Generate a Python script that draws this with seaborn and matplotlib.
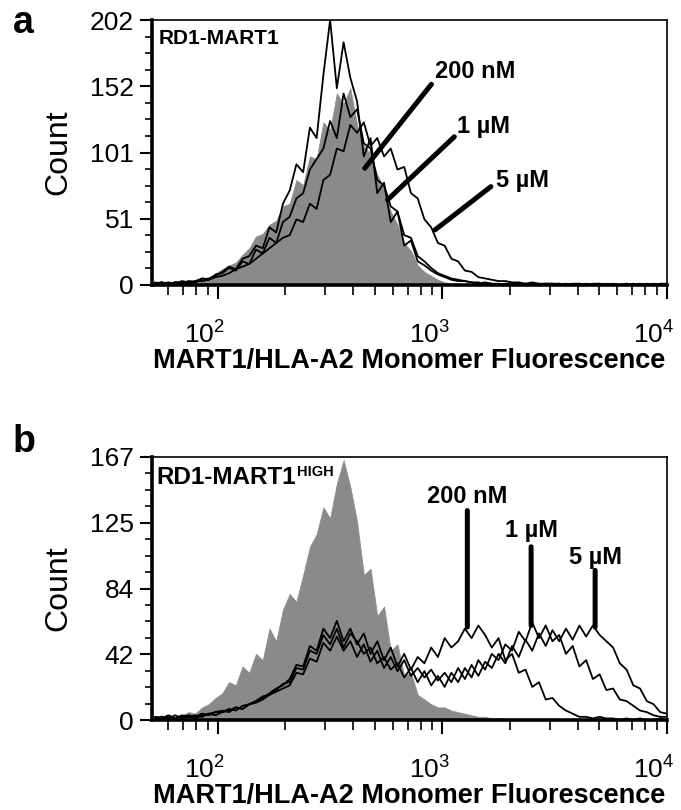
import numpy as np
import pandas as pd
import matplotlib
matplotlib.use("Agg")
import matplotlib.pyplot as plt
import matplotlib.transforms as mtransforms
import seaborn as sns
from matplotlib.ticker import FixedLocator, NullFormatter, LogLocator

# ---------------- data (log10 of fluorescence channel centres) ----------------
log_bins = [1.72, 1.75, 1.78, 1.81, 1.84, 1.87, 1.90, 1.93, 1.96, 1.99,
            2.02, 2.05, 2.08, 2.11, 2.14, 2.17, 2.20, 2.23, 2.26, 2.29,
            2.32, 2.35, 2.38, 2.41, 2.44, 2.47, 2.50, 2.53, 2.56, 2.59,
            2.62, 2.65, 2.68, 2.71, 2.74, 2.77, 2.80, 2.83, 2.86, 2.89,
            2.92, 2.95, 2.98, 3.01, 3.04, 3.07, 3.10, 3.13, 3.16, 3.19,
            3.22, 3.25, 3.28, 3.31, 3.34, 3.37, 3.40, 3.43, 3.46, 3.49,
            3.52, 3.55, 3.58, 3.61, 3.64, 3.67, 3.70, 3.73, 3.76, 3.79,
            3.82, 3.85, 3.88, 3.91, 3.94, 3.97, 4.00]

concentrations = ["200 nM", "1 µM", "5 µM"]

# panel a : RD1-MART1
a_control = [2, 3, 1, 3, 2, 4, 3, 6, 5, 9,
             12, 15, 17, 23, 28, 37, 39, 46, 49, 60,
             62, 80, 76, 98, 96, 124, 118, 146, 138, 150,
             122, 106, 100, 84, 74, 56, 46, 32, 26, 15,
             10, 7, 4, 2, 1, 1, 0, 0, 0, 0,
             0, 0, 0, 0, 0, 0, 0, 0, 0, 0,
             0, 0, 0, 0, 0, 0, 0, 0, 0, 0,
             0, 0, 0, 0, 0, 0, 0]
a_200nM = [1, 2, 0, 2, 1, 3, 2, 4, 5, 7,
           10, 14, 12, 20, 22, 30, 28, 44, 40, 62,
           72, 92, 86, 120, 112, 160, 202, 150, 185, 158,
           140, 98, 112, 70, 78, 48, 56, 30, 34, 18,
           15, 11, 8, 6, 4, 3, 3, 2, 1, 2,
           1, 1, 0, 1, 1, 0, 1, 0, 1, 1,
           0, 1, 0, 0, 1, 0, 0, 1, 0, 0,
           1, 0, 0, 1, 0, 0, 0]
a_1uM = [2, 1, 2, 1, 3, 2, 3, 5, 4, 8,
         9, 13, 11, 18, 16, 27, 24, 36, 32, 48,
         52, 66, 70, 88, 96, 104, 125, 112, 146, 128,
         134, 108, 104, 80, 76, 60, 56, 38, 36, 22,
         18, 13, 9, 7, 5, 4, 3, 2, 2, 1,
         1, 0, 1, 1, 0, 1, 0, 1, 0, 0,
         1, 0, 0, 1, 0, 0, 1, 0, 0, 0,
         0, 1, 0, 0, 1, 0, 0]
a_5uM = [1, 2, 1, 2, 2, 1, 3, 3, 4, 6,
         7, 9, 12, 14, 16, 20, 24, 28, 32, 36,
         38, 50, 48, 62, 58, 80, 84, 104, 102, 122,
         116, 124, 106, 112, 98, 104, 88, 90, 70, 66,
         50, 44, 32, 30, 20, 18, 11, 10, 6, 5,
         4, 3, 3, 2, 2, 1, 2, 1, 1, 1,
         1, 0, 1, 1, 0, 1, 1, 0, 1, 0,
         1, 0, 1, 0, 0, 1, 1]

# panel b : RD1-MART1 HIGH
b_control = [2, 3, 1, 2, 3, 5, 4, 8, 10, 14,
             17, 24, 22, 34, 30, 42, 38, 58, 50, 70,
             80, 75, 92, 110, 118, 135, 128, 150, 165, 148,
             126, 92, 96, 66, 72, 44, 48, 28, 30, 16,
             13, 10, 8, 8, 6, 5, 4, 3, 2, 2,
             1, 1, 1, 0, 1, 0, 0, 1, 0, 0,
             0, 0, 0, 0, 0, 0, 0, 0, 0, 0,
             0, 0, 0, 0, 0, 0, 0]
b_200nM = [2, 1, 3, 1, 2, 3, 2, 4, 3, 5,
           6, 5, 8, 7, 10, 12, 14, 17, 20, 22,
           26, 35, 34, 47, 44, 58, 52, 63, 50, 58,
           48, 55, 42, 50, 38, 46, 34, 42, 32, 40,
           36, 46, 40, 52, 46, 50, 58, 52, 60, 54,
           46, 52, 38, 42, 30, 32, 21, 24, 13, 14,
           9, 6, 4, 2, 2, 1, 2, 1, 1, 0,
           1, 0, 1, 0, 0, 1, 0]
b_1uM = [1, 2, 1, 3, 1, 2, 3, 2, 4, 5,
         5, 7, 6, 9, 10, 12, 15, 16, 19, 23,
         24, 33, 32, 44, 42, 54, 48, 58, 46, 55,
         50, 42, 46, 36, 40, 32, 36, 27, 33, 24,
         31, 22, 28, 21, 30, 24, 33, 27, 38, 32,
         42, 38, 48, 44, 56, 50, 62, 52, 60, 50,
         54, 42, 47, 34, 38, 26, 29, 19, 20, 13,
         12, 9, 6, 5, 3, 2, 2]
b_5uM = [2, 1, 2, 1, 3, 2, 1, 3, 4, 3,
         5, 6, 8, 7, 10, 11, 13, 16, 18, 20,
         22, 30, 29, 39, 37, 49, 44, 53, 44, 50,
         40, 48, 37, 44, 33, 40, 31, 38, 28, 33,
         27, 32, 25, 30, 24, 33, 26, 35, 28, 37,
         33, 42, 36, 47, 40, 51, 44, 55, 47, 57,
         50, 58, 51, 60, 53, 60, 54, 50, 46, 36,
         32, 22, 20, 12, 10, 5, 4]

a_ymax = 202
a_yticklabels = ["0", "51", "101", "152", "202"]
b_ymax = 167
b_yticklabels = ["0", "42", "84", "125", "167"]
x_ticklabels = [r"$\mathregular{10^{2}}$", r"$\mathregular{10^{3}}$", r"$\mathregular{10^{4}}$"]

# ---------------- style ----------------
sns.set_theme(style="ticks")
plt.rcParams["font.family"] = ["Liberation Sans", "DejaVu Sans"]
plt.rcParams["text.color"] = "black"
plt.rcParams["axes.labelcolor"] = "black"
plt.rcParams["xtick.color"] = "black"
plt.rcParams["ytick.color"] = "black"

fig = plt.figure(figsize=(6.81, 8.10), dpi=100)
W, H = 681.0, 810.0
ax_a = fig.add_axes([152 / W, 1 - 285 / H, 515 / W, 265 / H])
ax_b = fig.add_axes([152 / W, 1 - 720 / H, 515 / W, 263 / H])

XMIN = 10 ** 1.707
XMAX = 1e4


def draw_panel(ax, control, curves, ymax, yticklabels):
    x = [10 ** v for v in log_bins]
    ax.fill_between(x, control, 0, color="#8a8a8a", lw=0.6, edgecolor="#8f8f8f", zorder=1)
    rows = []
    for name, vals in zip(concentrations, curves):
        for xv, yv in zip(x, vals):
            rows.append({"fluor": xv, "count": yv, "conc": name})
    df = pd.DataFrame(rows)
    sns.lineplot(data=df, x="fluor", y="count", units="conc", estimator=None,
                 color="black", lw=1.3, ax=ax, zorder=3, legend=False)
    ax.set_xscale("log")
    ax.set_xlim(XMIN, XMAX)
    ax.set_ylim(0, ymax)

    ax.yaxis.set_major_locator(FixedLocator(list(np.linspace(0, ymax, 5))))
    ax.yaxis.set_minor_locator(FixedLocator(list(np.linspace(0, ymax, 17))))
    ax.set_yticklabels(yticklabels, fontsize=19)
    ax.xaxis.set_major_locator(FixedLocator([1e2, 1e3, 1e4]))
    ax.xaxis.set_minor_locator(LogLocator(base=10, subs=range(2, 10), numticks=20))
    ax.xaxis.set_minor_formatter(NullFormatter())
    ax.set_xticklabels(x_ticklabels, fontsize=19)

    ax.tick_params(axis="y", which="major", direction="out", length=9, width=1.5, pad=4)
    ax.tick_params(axis="y", which="minor", direction="out", length=5, width=1.2)
    ax.tick_params(axis="x", which="major", direction="out", length=10, width=1.5, pad=16)
    ax.tick_params(axis="x", which="minor", direction="out", length=7, width=1.2)

    for side in ["left", "bottom"]:
        ax.spines[side].set_linewidth(2.6)
    for side in ["top", "right"]:
        ax.spines[side].set_linewidth(1.2)
    for s in ax.spines.values():
        s.set_color("black")
    ax.set_ylabel("Count", fontsize=23, labelpad=12)
    ax.set_xlabel("MART1/HLA-A2 Monomer Fluorescence", fontsize=19.5,
                  fontweight="bold", labelpad=0)


draw_panel(ax_a, a_control, [a_200nM, a_1uM, a_5uM], a_ymax, a_yticklabels)
draw_panel(ax_b, b_control, [b_200nM, b_1uM, b_5uM], b_ymax, b_yticklabels)

# shift x tick labels slightly left (as in the reference), after all tick_params
for ax in (ax_a, ax_b):
    shift = mtransforms.ScaledTranslation(-13 / 100.0, 0, fig.dpi_scale_trans)
    for lab in ax.get_xticklabels():
        lab.set_transform(lab.get_transform() + shift)

# panel titles inside axes
ax_a.text(0.012, 0.965, "RD1-MART1", transform=ax_a.transAxes, fontsize=15,
          fontweight="bold", ha="left", va="top")
t_b = ax_b.text(0.008, 0.965, "RD1-MART1", transform=ax_b.transAxes, fontsize=17.5,
                fontweight="bold", ha="left", va="top")
ax_b.annotate("HIGH", xy=(1.0, 1.0), xycoords=t_b, fontsize=10.5, fontweight="bold",
              ha="left", va="top", xytext=(1, 1), textcoords="offset points")

# panel letters
fig.text(13 / W, 1 - 33 / H, "a", fontsize=27, fontweight="bold", ha="left", va="baseline")
fig.text(13 / W, 1 - 452 / H, "b", fontsize=27, fontweight="bold", ha="left", va="baseline")

line_kw = dict(arrowstyle="-", lw=3.6, color="black", shrinkA=0, shrinkB=0)

# panel a annotations: (label, text x, text y, line start, line end)
a_notes = [("200 nM", 10 ** 2.965, 158, (10 ** 2.951, 153), (10 ** 2.654, 89)),
           ("1 µM", 10 ** 3.067, 116, (10 ** 3.053, 113), (10 ** 2.756, 65)),
           ("5 µM", 10 ** 3.240, 75, (10 ** 3.216, 75), (10 ** 2.967, 42))]
for label, tx, ty, p0, p1 in a_notes:
    ax_a.text(tx, ty, label, fontsize=17, fontweight="bold", ha="left", va="baseline")
    ax_a.annotate("", xy=p1, xytext=p0, arrowprops=line_kw)

# panel b annotations
b_notes = [("200 nM", 10 ** 3.111, 138, 133, 59),
           ("1 µM", 10 ** 3.395, 116, 110, 60),
           ("5 µM", 10 ** 3.68, 99, 95, 59)]
for label, lx, ty, ytop, ybot in b_notes:
    ax_b.text(lx, ty, label, fontsize=17, fontweight="bold", ha="center", va="baseline")
    ax_b.annotate("", xy=(lx, ybot), xytext=(lx, ytop), arrowprops=line_kw)

fig.savefig("out.png", dpi=100)
